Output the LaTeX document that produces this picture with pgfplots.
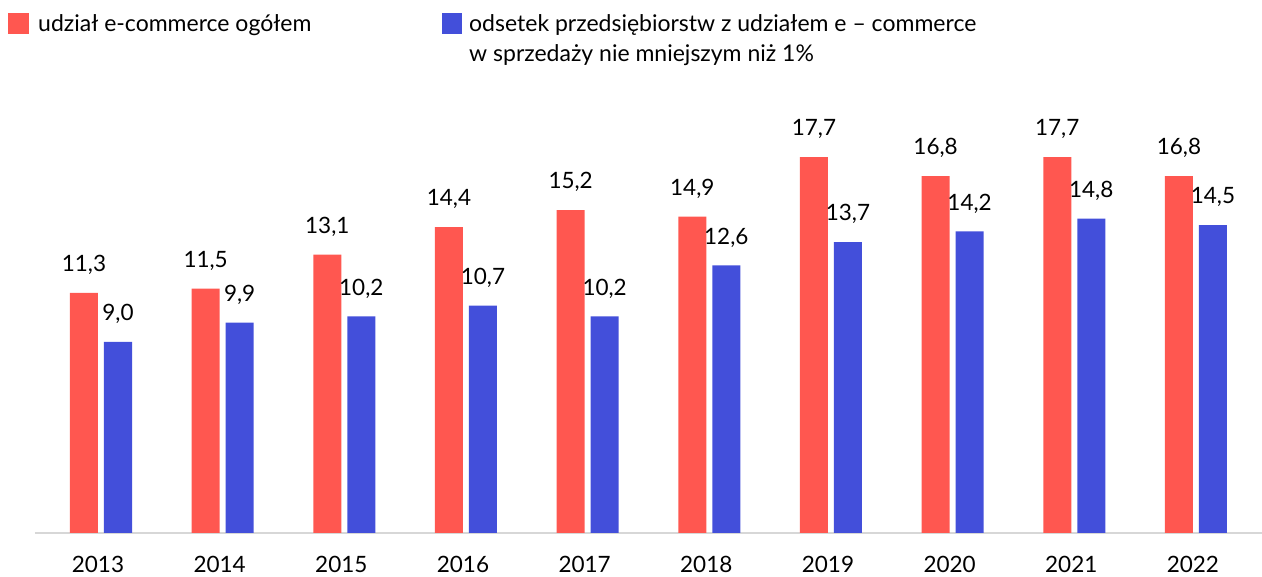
\documentclass[border=0pt]{standalone}
\usepackage{pgfplots}
\pgfplotsset{compat=1.18}
\usepackage{fontspec}
\setmainfont{Lato}
\definecolor{cred}{RGB}{255,87,80}
\definecolor{cblue}{RGB}{67,79,218}
\definecolor{axgray}{RGB}{215,215,215}
\pgfplotstableread{
x val
0 11.3
1 11.5
2 13.1
3 14.4
4 15.2
5 14.9
6 17.7
7 16.8
8 17.7
9 16.8
}\ecommerce
\pgfplotstableread{
x val
0 9.0
1 9.9
2 10.2
3 10.7
4 10.2
5 12.6
6 13.7
7 14.2
8 14.8
9 14.5
}\odsetek
\begin{document}
\fontsize{23}{27}\selectfont
\begin{tikzpicture}[x=1pt,y=1pt]
\useasboundingbox (0,0) rectangle (1262,577);
\fill[cred] (8,543.3) rectangle (29,564.3);
\node[anchor=base west, inner sep=0] at (38,545) {udział e-commerce ogółem};
\fill[cblue] (442,543.3) rectangle (462,564.3);
\node[anchor=base west, inner sep=0] at (469,545) {odsetek przedsiębiorstw z udziałem e – commerce};
\node[anchor=base west, inner sep=0] at (469,515) {w sprzedaży nie mniejszym niż 1\%};
\begin{axis}[
  at={(35pt,44pt)}, anchor=south west,
  scale only axis, width=1227pt, height=424.8pt,
  xmin=-0.5425, xmax=9.5425, ymin=0, ymax=20,
  ybar=6pt, bar width=28pt,
  axis x line=bottom, axis y line=none,
  x axis line style={draw=axgray, line width=1.5pt, -},
  xtick=data,
  xticklabels={2013,2014,2015,2016,2017,2018,2019,2020,2021,2022},
  major tick length=0pt,
  xticklabel style={anchor=base, yshift=-40pt, xshift=-3pt, font=\fontsize{22.5}{26}\selectfont},
  nodes near coords,
  /pgf/number format/.cd, fixed, fixed zerofill, precision=1, use comma, assume math mode=true,
  /pgfplots/.cd,
  every node near coord/.append style={inner sep=0pt, text depth=0pt, yshift=21pt, font=\fontsize{22.5}{26}\selectfont, text=black},
]
\addplot[fill=cred, draw=none] table[x=x, y=val] {\ecommerce};
\addplot[fill=cblue, draw=none] table[x=x, y=val] {\odsetek};
\end{axis}
\end{tikzpicture}
\end{document}
